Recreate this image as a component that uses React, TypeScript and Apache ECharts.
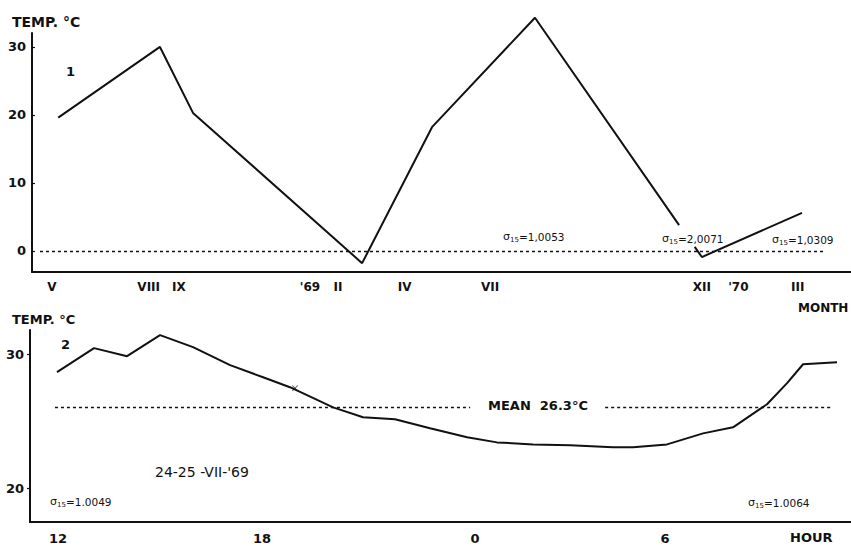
import React, { useEffect, useRef } from "react";
import * as echarts from "echarts";

// ---- Panel 1: monthly temperatures (x = months counted from May '68, as read) ----
const monthTickPos = [0, 3.1, 4.07, 8.27, 9.17, 11.3, 14.04, 20.83, 22.0, 23.9];
const monthTickLabels = ["V", "VIII", "IX", "'69", "II", "IV", "VII", "XII", "'70", "III"];
const seg1X = [0.2, 3.46, 4.52, 9.94, 12.18, 15.48, 20.1];
const seg1Y = [19.6, 30.0, 20.3, -1.8, 18.2, 34.3, 3.8];
const seg2X = [20.6, 20.83, 24.04];
const seg2Y = [0.6, -0.9, 5.6];
const tempTicks1 = [0, 10, 20, 30];
const zeroLevel = 0;

// ---- Panel 2: hourly temperatures 24-25 VII '69 (x = hours from 12h, as read) ----
const hourTickPos = [0, 6.0, 12.26, 17.85];
const hourTickLabels = ["12", "18", "0", "6"];
const hourX = [-0.03, 1.06, 2.03, 3.0, 3.97, 5.06, 6.03, 6.82, 8.09, 8.97, 9.91, 10.94, 12.03, 12.91, 13.97, 15.06, 16.32, 16.91, 17.91, 18.97, 19.85, 20.85, 21.44, 21.91, 22.91];
const hourY = [28.66, 30.45, 29.85, 31.42, 30.52, 29.18, 28.28, 27.54, 26.04, 25.3, 25.15, 24.48, 23.81, 23.43, 23.28, 23.21, 23.06, 23.06, 23.28, 24.1, 24.55, 26.27, 27.84, 29.25, 29.4];
const markerX = [6.97];
const markerY = [27.46];
const tempTicks2 = [20, 30];
const meanLevel = 26.05;

const INK = "#111";
const FONT = "DejaVu Sans";

function pairs(xs: number[], ys: number[]) {
  return xs.map((x, i) => [x, ys[i]]);
}

function labelFor(pos: number[], labels: string[]) {
  return (v: number) => {
    const i = pos.findIndex((p) => Math.abs(p - v) < 1e-6);
    return i >= 0 ? labels[i] : "";
  };
}

export default function App() {
  const ref = useRef<HTMLDivElement>(null);

  useEffect(() => {
    if (!ref.current) return;
    const chart = echarts.init(ref.current, undefined, { renderer: "svg" });

    const axisLine = { show: true, onZero: false, lineStyle: { color: INK, width: 2 } };
    const tickLabel = { color: INK, fontFamily: FONT, fontWeight: "bold" as const };
    const dotted = { color: INK, width: 1.3, type: [3, 3] as number[] };

    const textEl = (left: number, top: number, text: string, fontSize: number, bold = true) => ({
      type: "text",
      left,
      top,
      style: {
        text,
        fontSize,
        fontFamily: FONT,
        fontWeight: bold ? "bold" : "normal",
        fill: INK,
      },
    });
    // σ with subscript 15, built from three small texts
    const sigmaEl = (x: number, y: number, value: string) => ({
      type: "group",
      x,
      y,
      children: [
        { type: "text", x: 0, y: 0, style: { text: "σ", fontSize: 11, fontFamily: FONT, fill: INK } },
        { type: "text", x: 7, y: 5, style: { text: "15", fontSize: 7, fontFamily: FONT, fill: INK } },
        { type: "text", x: 16, y: 0, style: { text: "=" + value, fontSize: 10.5, fontFamily: FONT, fill: INK } },
      ],
    });

    chart.setOption({
      animation: false,
      backgroundColor: "#fff",
      grid: [
        { left: 32, right: 0, top: 33, height: 239, containLabel: false },
        { left: 30, right: 0, top: 330, height: 192, containLabel: false },
      ],
      xAxis: [
        {
          gridIndex: 0,
          type: "value",
          min: -0.641,
          max: 25.61,
          axisLine,
          axisTick: { show: false },
          splitLine: { show: false },
          axisLabel: {
            ...tickLabel,
            fontSize: 12,
            margin: 9,
            customValues: monthTickPos,
            formatter: labelFor(monthTickPos, monthTickLabels),
          },
        },
        {
          gridIndex: 1,
          type: "value",
          min: -0.824,
          max: 23.32,
          axisLine,
          axisTick: { show: false },
          splitLine: { show: false },
          axisLabel: {
            ...tickLabel,
            fontSize: 13,
            margin: 10,
            customValues: hourTickPos,
            formatter: labelFor(hourTickPos, hourTickLabels),
          },
        },
      ],
      yAxis: [
        {
          gridIndex: 0,
          type: "value",
          min: -3.1,
          max: 32.05,
          axisLine,
          axisTick: { show: true, inside: true, length: 3, lineStyle: { color: INK, width: 1.2 }, customValues: tempTicks1 },
          splitLine: { show: false },
          axisLabel: { ...tickLabel, fontSize: 13, margin: 6, customValues: tempTicks1 },
        },
        {
          gridIndex: 1,
          type: "value",
          min: 17.5,
          max: 31.8,
          axisLine,
          axisTick: { show: true, length: 3, lineStyle: { color: INK, width: 1.2 }, customValues: tempTicks2 },
          splitLine: { show: false },
          axisLabel: { ...tickLabel, fontSize: 13, margin: 6, customValues: tempTicks2 },
        },
      ],
      series: [
        {
          type: "line",
          xAxisIndex: 0,
          yAxisIndex: 0,
          data: pairs(seg1X, seg1Y),
          showSymbol: false,
          clip: false,
          lineStyle: { color: INK, width: 2 },
          markLine: {
            silent: true,
            symbol: "none",
            label: { show: false },
            lineStyle: dotted,
            data: [[{ coord: [-0.385, zeroLevel] }, { coord: [24.78, zeroLevel] }]],
          },
        },
        {
          type: "line",
          xAxisIndex: 0,
          yAxisIndex: 0,
          data: pairs(seg2X, seg2Y),
          showSymbol: false,
          clip: false,
          lineStyle: { color: INK, width: 2 },
        },
        {
          type: "line",
          xAxisIndex: 1,
          yAxisIndex: 1,
          data: pairs(hourX, hourY),
          showSymbol: false,
          clip: false,
          lineStyle: { color: INK, width: 2 },
          markLine: {
            silent: true,
            symbol: "none",
            label: { show: false },
            lineStyle: dotted,
            data: [
              [{ coord: [-0.09, meanLevel] }, { coord: [12.12, meanLevel] }],
              [{ coord: [16.09, meanLevel] }, { coord: [22.79, meanLevel] }],
            ],
          },
        },
        {
          type: "scatter",
          xAxisIndex: 1,
          yAxisIndex: 1,
          data: pairs(markerX, markerY),
          symbol: "path://M0 1L1 0L5 4L9 0L10 1L6 5L10 9L9 10L5 6L1 10L0 9L4 5Z",
          symbolSize: 6,
          itemStyle: { color: INK },
        },
      ],
      graphic: [
        textEl(12, 15, "TEMP. °C", 14),
        textEl(66, 65, "1", 13),
        textEl(798, 302, "MONTH", 12),
        sigmaEl(503, 231, "1,0053"),
        sigmaEl(662, 233, "2,0071"),
        sigmaEl(772, 234, "1,0309"),
        textEl(12, 313, "TEMP. °C", 13),
        textEl(61, 338, "2", 13),
        textEl(155, 465, "24-25 -VII-'69", 14, false),
        textEl(488, 399, "MEAN  26.3°C", 13),
        sigmaEl(50, 496, "1.0049"),
        sigmaEl(748, 497, "1.0064"),
        textEl(790, 531, "HOUR", 13),
      ],
    });

    return () => chart.dispose();
  }, []);

  return (
    <div
      ref={ref}
      style={{ position: "fixed", left: 0, top: 0, width: 851, height: 546, background: "#fff" }}
    />
  );
}
